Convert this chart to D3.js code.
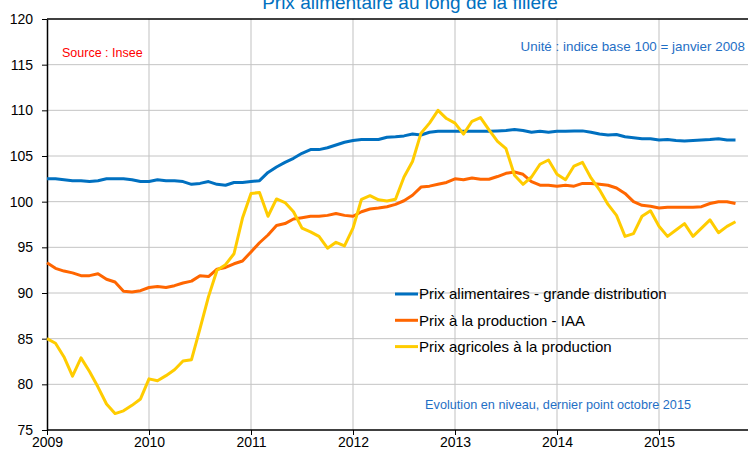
<!DOCTYPE html>
<html>
<head>
<meta charset="utf-8">
<script src="https://cdn.jsdelivr.net/npm/d3@7"></script>
<style>
  body { margin: 0; background: #fff; }
  svg { display: block; font-family: "Liberation Sans", Arial, sans-serif; }
</style>
</head>
<body>
<div id="chart"></div>
<script>
// months from janvier 2009 to octobre 2015 (index 0..81)
const years = ["2009", "2010", "2011", "2012", "2013", "2014", "2015"];
const yTicks = [75, 80, 85, 90, 95, 100, 105, 110, 115, 120];

const grandeDistribution = [
  102.5, 102.5, 102.4, 102.3, 102.3, 102.2, 102.3, 102.5, 102.5, 102.5, 102.4, 102.2,
  102.2, 102.4, 102.3, 102.3, 102.2, 101.9, 102.0, 102.2, 101.9, 101.8, 102.1, 102.1,
  102.2, 102.3, 103.2, 103.8, 104.3, 104.75, 105.3, 105.7, 105.7, 105.9, 106.2, 106.5,
  106.7, 106.8, 106.8, 106.8, 107.05, 107.1, 107.2, 107.4, 107.3, 107.6, 107.7, 107.7,
  107.7, 107.7, 107.7, 107.7, 107.7, 107.75, 107.8, 107.9, 107.8, 107.6, 107.7, 107.6,
  107.7, 107.7, 107.75, 107.75, 107.6, 107.4, 107.3, 107.35, 107.1, 107.0, 106.9, 106.9,
  106.75, 106.8, 106.7, 106.65, 106.7, 106.75, 106.8, 106.9, 106.75, 106.75
];

const productionIAA = [
  93.3, 92.7, 92.4, 92.2, 91.9, 91.9, 92.1, 91.5, 91.2, 90.2, 90.1, 90.25,
  90.6, 90.7, 90.6, 90.8, 91.1, 91.3, 91.9, 91.8, 92.6, 92.8, 93.2, 93.5,
  94.5, 95.5, 96.35, 97.4, 97.6, 98.1, 98.25, 98.4, 98.4, 98.5, 98.7, 98.5,
  98.4, 98.9, 99.2, 99.3, 99.45, 99.7, 100.1, 100.7, 101.6, 101.7, 101.9, 102.1,
  102.5, 102.4, 102.6, 102.45, 102.45, 102.75, 103.1, 103.25, 103.0, 102.2, 101.8, 101.8,
  101.7, 101.8, 101.7, 102.0, 102.0, 101.9, 101.8, 101.5, 100.9, 100.0, 99.6, 99.5,
  99.3, 99.4, 99.4, 99.4, 99.4, 99.45, 99.8, 100.0, 100.0, 99.8
];

const agricoles = [
  85.0, 84.5, 83.0, 80.9, 82.9, 81.4, 79.7, 77.85, 76.8, 77.1, 77.7, 78.4,
  80.6, 80.4, 80.95, 81.6, 82.55, 82.7, 86.1, 89.6, 92.5, 93.1, 94.3, 98.2,
  100.9, 101.0, 98.4, 100.3, 99.9, 98.9, 97.1, 96.7, 96.2, 94.9, 95.55, 95.15,
  97.1, 100.26, 100.66, 100.2, 100.07, 100.26, 102.7, 104.4, 107.5, 108.6, 110.0, 109.1,
  108.6, 107.4, 108.8, 109.2, 107.85, 106.6, 105.8, 102.9, 101.9, 102.7, 104.1, 104.56,
  103.0, 102.4, 103.9, 104.3, 102.6, 101.3, 99.7, 98.5, 96.2, 96.5, 98.4, 99.0,
  97.3, 96.2, 96.9, 97.6, 96.2, 97.1, 98.0, 96.6, 97.3, 97.8
];

const seriesNames = ["Prix alimentaires - grande distribution", "Prix à la production - IAA", "Prix agricoles à la production"];
const seriesColors = ["#0070c0", "#ff6600", "#ffcc00"];
const seriesData = [grandeDistribution, productionIAA, agricoles];

const W = 748, H = 449;
const plotLeft = 47, plotTop = 19, plotBottom = 430;

const svg = d3.select("#chart").append("svg")
  .attr("width", W)
  .attr("height", H);

// category axis: one step per month
const x = d3.scaleLinear().domain([0, 84]).range([plotLeft, plotLeft + 84 * 8.5]);
const y = d3.scaleLinear().domain([75, 120]).range([plotBottom, plotTop]);

const yearIdx = years.map((d, i) => i * 12);

// vertical grid
svg.append("g")
  .selectAll("line")
  .data(yearIdx.slice(1).concat([84]))
  .enter().append("line")
  .attr("x1", d => x(d)).attr("x2", d => x(d))
  .attr("y1", plotTop).attr("y2", plotBottom)
  .attr("stroke", "#d6d6d6")
  .attr("stroke-width", 1.5);

// horizontal grid
svg.append("g")
  .selectAll("line")
  .data(yTicks.slice(1, -1))
  .enter().append("line")
  .attr("x1", plotLeft).attr("x2", W)
  .attr("y1", d => y(d)).attr("y2", d => y(d))
  .attr("stroke", "#c4c4c4")
  .attr("stroke-width", 1);

// top border of plot area
svg.append("line")
  .attr("x1", plotLeft).attr("x2", W)
  .attr("y1", y(120)).attr("y2", y(120))
  .attr("stroke", "#000")
  .attr("stroke-width", 1.5);

// axes
const yAxis = svg.append("g")
  .attr("transform", "translate(" + plotLeft + ",0)")
  .call(d3.axisLeft(y).tickValues(yTicks).tickSize(5).tickPadding(9).tickSizeOuter(0));
yAxis.select(".domain").attr("stroke", "#000").attr("stroke-width", 1.5);
yAxis.selectAll("text").attr("font-size", 14).attr("fill", "#000")
  .attr("font-family", "Liberation Sans, Arial, sans-serif");

const xAxis = svg.append("g")
  .attr("transform", "translate(0," + plotBottom + ")")
  .call(d3.axisBottom(x).tickValues(yearIdx).tickFormat((d, i) => years[i])
    .tickSize(5).tickPadding(2).tickSizeOuter(0));
xAxis.select(".domain").attr("d", "M" + plotLeft + ",0H" + W).attr("stroke", "#000").attr("stroke-width", 1.5);
xAxis.selectAll("text").attr("font-size", 14).attr("fill", "#000")
  .attr("font-family", "Liberation Sans, Arial, sans-serif");

// lines
const line = d3.line()
  .x((d, i) => x(i))
  .y(d => y(d));

svg.append("g")
  .selectAll("path")
  .data(seriesData)
  .enter().append("path")
  .attr("d", line)
  .attr("fill", "none")
  .attr("stroke", (d, i) => seriesColors[i])
  .attr("stroke-width", 3)
  .attr("stroke-linejoin", "round");

// title (cut at top of picture)
svg.append("text")
  .attr("x", 410)
  .attr("y", 9)
  .attr("text-anchor", "middle")
  .attr("font-size", 19)
  .attr("fill", "#0070c0")
  .text("Prix alimentaire au long de la filière");

svg.append("text")
  .attr("x", 62)
  .attr("y", 57)
  .attr("font-size", 12.5)
  .attr("fill", "#ff0000")
  .text("Source : Insee");

svg.append("text")
  .attr("x", 745)
  .attr("y", 51)
  .attr("text-anchor", "end")
  .attr("font-size", 13.4)
  .attr("fill", "#1f6fc5")
  .text("Unité : indice base 100 = janvier 2008");

svg.append("text")
  .attr("x", 691)
  .attr("y", 409)
  .attr("text-anchor", "end")
  .attr("font-size", 12.7)
  .attr("fill", "#1f6fc5")
  .text("Evolution en niveau, dernier point octobre 2015");

// legend
const legX = 395, legY = 294;
const leg = svg.append("g")
  .selectAll("g")
  .data(seriesNames)
  .enter().append("g")
  .attr("transform", (d, i) => "translate(" + legX + "," + (legY + i * 26.3) + ")");

leg.append("line")
  .attr("x1", 0).attr("x2", 23)
  .attr("stroke", (d, i) => seriesColors[i])
  .attr("stroke-width", 3);

leg.append("text")
  .attr("x", 24)
  .attr("y", 5.3)
  .attr("font-size", 15)
  .attr("fill", "#000")
  .text(d => d);
</script>
</body>
</html>
